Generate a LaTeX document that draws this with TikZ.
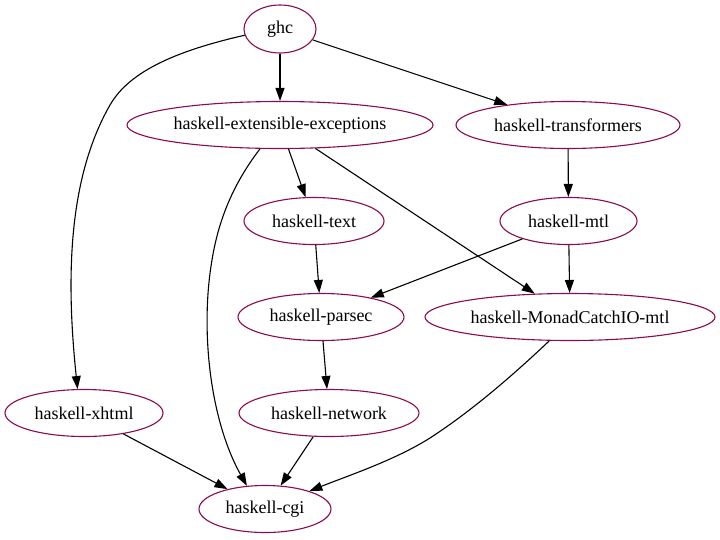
\documentclass[tikz,border=0pt]{standalone}
\usepackage{fontspec}
\setmainfont{Liberation Serif}
\usetikzlibrary{shapes.geometric,arrows.meta}
\definecolor{nodeborder}{RGB}{139,10,80}
\tikzset{
  pkg/.style={draw=nodeborder, line width=1.1pt, ellipse, inner sep=0pt,
    minimum height=47pt, font=\fontsize{18}{20}\selectfont},
  dep/.style={draw=black, line width=1.1pt, -{Triangle[length=13pt,width=9pt]}}
}
\begin{document}
\begin{tikzpicture}[x=1pt,y=-1pt]
\useasboundingbox (0,0) rectangle (720,539);
\node[pkg, minimum width=72pt, minimum height=48pt] (ghc) at (280,29) {ghc};
\node[pkg, minimum width=306pt] (ext) at (280,125) {haskell-extensible-exceptions};
\node[pkg, minimum width=224pt] (trans) at (568,125) {haskell-transformers};
\node[pkg, minimum width=140pt] (text) at (314,221) {haskell-text};
\node[pkg, minimum width=137pt] (mtl) at (568.5,221) {haskell-mtl};
\node[pkg, minimum width=166pt] (parsec) at (321,317) {haskell-parsec};
\node[pkg, minimum width=290pt] (mcio) at (570,317) {haskell-MonadCatchIO-mtl};
\node[pkg, minimum width=158pt] (xhtml) at (84,413) {haskell-xhtml};
\node[pkg, minimum width=180pt] (network) at (329,413) {haskell-network};
\node[pkg, minimum width=132pt] (cgi) at (265,509) {haskell-cgi};

\draw[dep] (ghc) -- (ext);
\draw[dep] (ghc) -- (trans);
\draw[dep] (ghc.190) .. controls (180,50) and (130,70) .. (110,105)
  .. controls (70,175) and (65,270) .. (xhtml.105);
\draw[dep] (ext) -- (text);
\draw[dep] (ext) -- (mcio);
\draw[dep] (ext.230) .. controls (240,175) and (220,210) .. (212,260)
  .. controls (200,330) and (210,420) .. (cgi.128);
\draw[dep] (trans) -- (mtl);
\draw[dep] (mtl) -- (parsec);
\draw[dep] (mtl) -- (mcio);
\draw[dep] (text) -- (parsec);
\draw[dep] (parsec) -- (network);
\draw[dep] (network) -- (cgi);
\draw[dep] (xhtml) -- (cgi);
\draw[dep] (mcio.229) .. controls (510,378) and (470,412) .. (430,438)
  .. controls (395,460) and (350,475) .. (cgi.22);
\end{tikzpicture}
\end{document}
